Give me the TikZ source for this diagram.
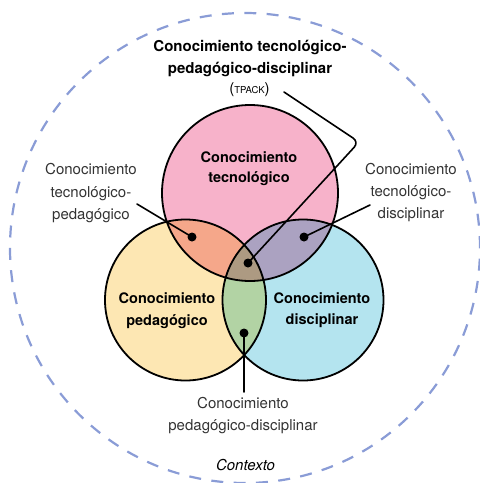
\documentclass[tikz,border=0pt]{standalone}
\usepackage{fontspec}
\setmainfont{TeX Gyre Heros}
\definecolor{vpink}{HTML}{F7B2CA}
\definecolor{vyellow}{HTML}{FDE7B3}
\definecolor{vblue}{HTML}{B4E4EF}
\definecolor{vorange}{HTML}{F5A78A}
\definecolor{vpurple}{HTML}{ABA2C1}
\definecolor{vgreen}{HTML}{B2D3A4}
\definecolor{vbrown}{HTML}{AD9A82}
\definecolor{ctxblue}{HTML}{8A9CD6}
\definecolor{txt}{HTML}{333333}
\begin{document}
\begin{tikzpicture}[x=1pt,y=-1pt,
  ring/.style={line width=1.8pt},
  context/.style={draw=ctxblue, line width=2.2pt, dash pattern=on 12pt off 10.37pt},
  link/.style={line width=1.6pt, line cap=round},
  dot/.style={circle, fill=black, inner sep=0pt, minimum size=9pt},
  reg/.style={font=\fontsize{15}{18}\selectfont, text=txt, anchor=base, inner sep=0pt},
  bld/.style={font=\fontsize{14.5}{18}\selectfont\bfseries, text=black, anchor=base, inner sep=0pt},
  ttl/.style={font=\fontsize{15}{18}\selectfont\bfseries, text=black, anchor=base, inner sep=0pt},
]
\useasboundingbox (0,0) rectangle (480,483);
% context
\draw[context] (245,248) circle[radius=235pt];
% base fills
\fill[vpink] (250,193) circle[radius=88pt];
\fill[vyellow] (185.5,300) circle[radius=80.5pt];
\fill[vblue] (303,300) circle[radius=80.5pt];
% intersections
\begin{scope}
  \clip (250,193) circle[radius=88pt];
  \fill[vorange] (185.5,300) circle[radius=80.5pt];
  \fill[vpurple] (303,300) circle[radius=80.5pt];
\end{scope}
\begin{scope}
  \clip (185.5,300) circle[radius=80.5pt];
  \fill[vgreen] (303,300) circle[radius=80.5pt];
  \clip (250,193) circle[radius=88pt];
  \fill[vbrown] (303,300) circle[radius=80.5pt];
\end{scope}
% outlines
\draw[ring] (250,193) circle[radius=88pt];
\draw[ring] (185.5,300) circle[radius=80.5pt];
\draw[ring] (303,300) circle[radius=80.5pt];

% title
\node[ttl] (title1) at (250,51.7) {Conocimiento tecnológico-};
\node[ttl] (title2) at (250,73.3) {pedagógico-disciplinar};
\node[reg, text=black] (tpack) at (249.5,93.3) {({\fontsize{9.5}{11}\selectfont TPACK})};

% circle labels
\node[bld] (tec1) at (249,162.3) {Conocimiento};
\node[bld] (tec2) at (249,182) {tecnológico};
\node[bld] (ped1) at (167,303.3) {Conocimiento};
\node[bld] (ped2) at (167,325) {pedagógico};
\node[bld] (dis1) at (322,303) {Conocimiento};
\node[bld] (dis2) at (322,324.7) {disciplinar};

% side labels
\node[reg] (tp1) at (91,174.3) {Conocimiento};
\node[reg] (tp2) at (91,197) {tecnológico-};
\node[reg] (tp3) at (91,219.5) {pedagógico};
\node[reg] (td1) at (411,174.3) {Conocimiento};
\node[reg] (td2) at (411,196.7) {tecnológico-};
\node[reg] (td3) at (411,218.7) {disciplinar};
\node[reg] (pd1) at (243,408) {Conocimiento};
\node[reg] (pd2) at (243,430) {pedagógico-disciplinar};
\node[reg, font=\fontsize{15}{18}\selectfont\itshape, text=black] (ctx) at (245.5,470.7) {Contexto};

% dots
\node[dot] (dTP) at (192,237) {};
\node[dot] (dTD) at (304,237) {};
\node[dot] (dTPACK) at (248,263) {};
\node[dot] (dPD) at (244,333) {};

% connector ends
\coordinate (eTP) at (137,204);
\coordinate (eTD) at (370,205);
\coordinate (eTPACK) at (284,92);
\coordinate (bend) at (359,142);
\coordinate (ePD) at (244,392);

\draw[link] (eTP) -- (dTP.center);
\draw[link] (eTD) -- (dTD.center);
\draw[link, rounded corners=7pt] (eTPACK) -- (bend) -- (dTPACK.center);
\draw[link] (dPD.center) -- (ePD);
\end{tikzpicture}
\end{document}
